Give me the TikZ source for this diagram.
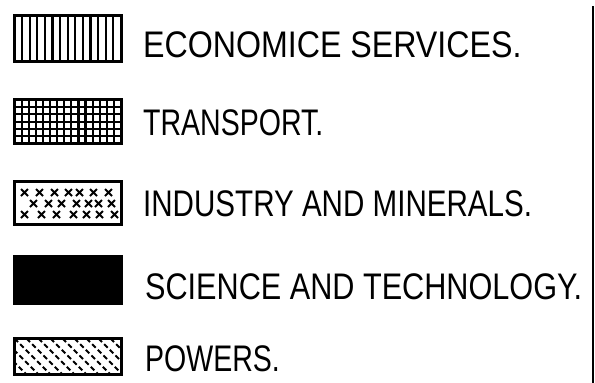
\documentclass[tikz,border=0pt]{standalone}
\usepackage{fontspec}
\setmainfont{Liberation Sans}
\usetikzlibrary{positioning}

\tikzset{
  swatch/.style={draw, line width=3pt, minimum width=107pt, minimum height=46pt,
    inner sep=0pt, anchor=north west},
  keytext/.style={anchor=west, inner sep=0pt, font=\fontsize{37}{37}\selectfont, xscale=0.82},
  hatch/.style={line width=2.2pt},
}

\begin{document}
\begin{tikzpicture}[x=1pt,y=-1pt]
\useasboundingbox (0,0) rectangle (595,383);

% legend swatches
\node[swatch, path picture={
  \foreach \i in {1,...,13}
    \draw[hatch] ([xshift=\i*7.6pt]path picture bounding box.south west)
      -- ([xshift=\i*7.6pt]path picture bounding box.north west);
}] (econ) at (13,14) {};

\node[swatch, minimum height=44pt, path picture={
  \foreach \i in {1,...,14}
    \draw[hatch] ([xshift=\i*7.1pt]path picture bounding box.south west)
      -- ([xshift=\i*7.1pt]path picture bounding box.north west);
  \foreach \j in {1,...,5}
    \draw[hatch] ([yshift=\j*7.3pt]path picture bounding box.south west)
      -- ([yshift=\j*7.3pt]path picture bounding box.south east);
}] (trans) at (13,98) {};

\node[swatch, minimum height=43pt, path picture={
  \foreach \u/\v in {10/11,25/11,40/11,54/11,65/11,79/11,94/11,
                     19/22,34/22,47/22,62/22,74/22,84/22,97/22,
                     10/33,27/33,42/33,59/33,72/33,85/33,100/33}
    \draw[line width=2pt] ([xshift=\u*1pt-3.5pt,yshift=-\v*1pt+3.5pt]path picture bounding box.north west)
      -- ++(7pt,-7pt) ++(-7pt,0) -- ++(7pt,7pt);
}] (indus) at (13,180) {};

\node[swatch, fill=black, minimum height=47pt] (sci) at (13,255) {};

\node[swatch, minimum height=36pt, path picture={
  \foreach \i in {-3,...,9}
    \draw[line width=2pt, dash pattern=on 5pt off 3pt]
      ([xshift=\i*12pt]path picture bounding box.north west) -- ++(38pt,-38pt);
}] (power) at (13,337) {};

% labels
\node[keytext, xscale=1.06] (econtxt)  at (143,45)  {ECONOMICE SERVICES.};
\node[keytext, xscale=0.94] (transtxt) at (143,123) {TRANSPORT.};
\node[keytext, xscale=0.975] (industxt) at (143,204) {INDUSTRY AND MINERALS.};
\node[keytext, xscale=1.01] (scitxt)   at (145,287) {SCIENCE AND TECHNOLOGY.};
\node[keytext, xscale=0.94] (powertxt) at (145,359) {POWERS.};

% frame edge
\draw[line width=2.5pt] (593,6) -- (593,383);
\end{tikzpicture}
\end{document}
